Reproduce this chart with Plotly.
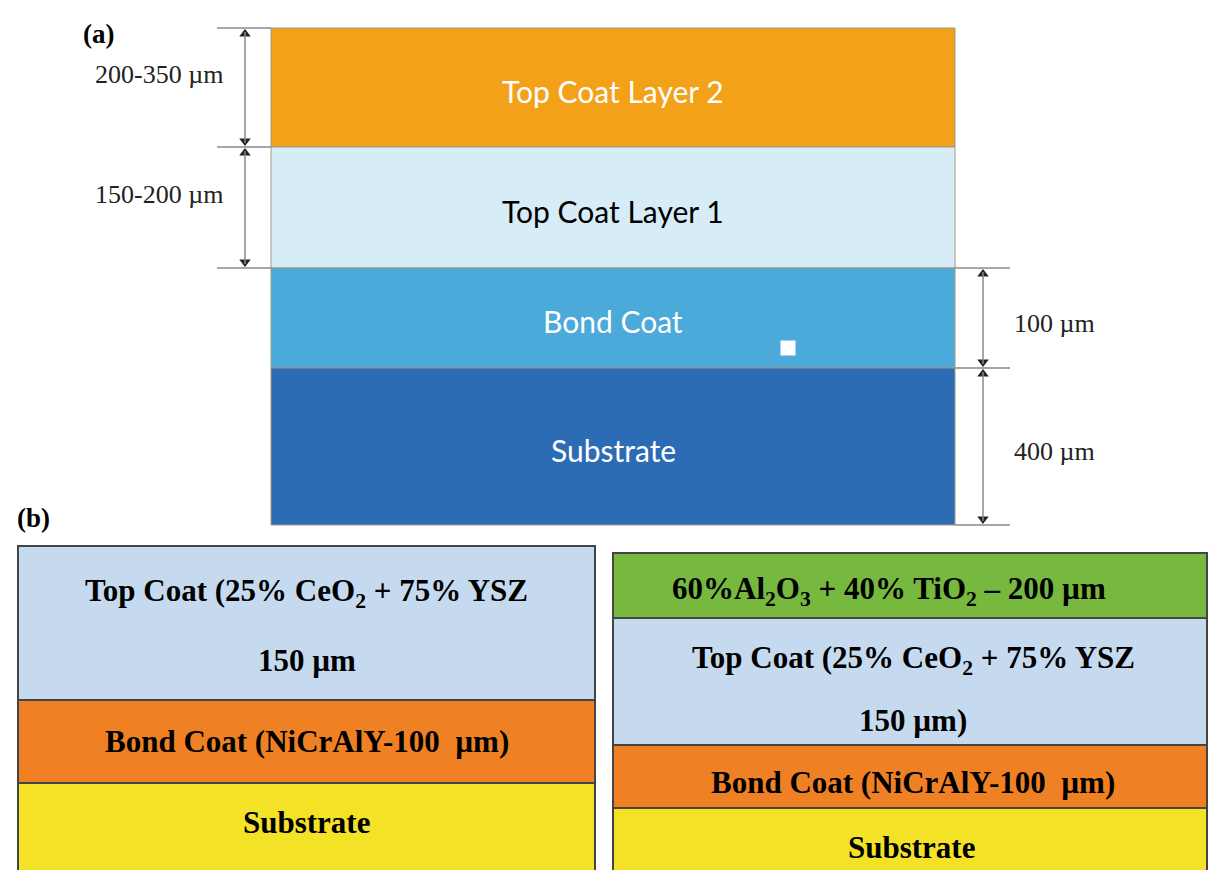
import numpy as np
import plotly.graph_objects as go

# ---------------- data ----------------
# Panel (a): layer stack (top to bottom), displayed heights in drawing units
a_layers = ["Top Coat Layer 2", "Top Coat Layer 1", "Bond Coat", "Substrate"]
a_heights = [119, 121, 100, 157]
a_colors = ["#F4A11A", "#D6ECF6", "#4BAAD9", "#2C6CB4"]
a_textcolors = ["white", "black", "white", "white"]
a_thickness_left = ["200-350 µm", "150-200 µm"]
a_thickness_right = ["100 µm", "400 µm"]

# Panel (b) left stack
bl_layers = ["Top Coat (25% CeO<sub>2</sub> + 75% YSZ", "Bond Coat (NiCrAlY-100  µm)", "Substrate"]
bl_sublines = ["150 µm", "", ""]
bl_heights = [154, 83, 90]
bl_colors = ["#C6DAEF", "#F08024", "#F3E225"]

# Panel (b) right stack
br_layers = ["60%Al<sub>2</sub>O<sub>3</sub> + 40% TiO<sub>2</sub> – 200 µm",
             "Top Coat (25% CeO<sub>2</sub> + 75% YSZ",
             "Bond Coat (NiCrAlY-100  µm)", "Substrate"]
br_sublines = ["", "150 µm)", "", ""]
br_heights = [65, 127, 63, 65]
br_colors = ["#77B83E", "#C6DAEF", "#F08024", "#F3E225"]

# ---------------- layout geometry (drawing frame) ----------------
W, H = 1212, 870
A_X0, A_X1, A_TOP = 271, 955, 28
BL_X0, BL_X1, BL_TOP = 18, 595, 546
BR_X0, BR_X1, BR_TOP = 613, 1207, 553

fig = go.Figure()


def add_stack(x0, x1, top, heights, colors, line_color, line_width):
    bases = top + np.concatenate([[0], np.cumsum(heights)[:-1]])
    fig.add_trace(go.Bar(
        x=[(x0 + x1) / 2] * len(heights), y=heights, base=bases,
        width=[x1 - x0] * len(heights),
        marker=dict(color=colors, line=dict(color=line_color, width=line_width)),
        showlegend=False, hoverinfo="skip"))
    return bases


# Panel (a)
a_bases = add_stack(A_X0, A_X1, A_TOP, a_heights, a_colors, "#a09a80", 1)
a_mids = a_bases + np.array(a_heights) / 2
for name, ym, tc in zip(a_layers, a_mids, a_textcolors):
    fig.add_annotation(x=(A_X0 + A_X1) / 2, y=ym + 3, text=name, showarrow=False,
                       font=dict(family="Lato", size=30, color=tc))

# small white marker inside bond coat
fig.add_trace(go.Scatter(x=[788], y=[348], mode="markers",
                         marker=dict(symbol="square", size=15, color="white"),
                         showlegend=False, hoverinfo="skip"))

# dimension lines (a)
a_edges = np.concatenate([[A_TOP], A_TOP + np.cumsum(a_heights)])
left_edges = a_edges[:3]
right_edges = a_edges[2:]
ext_left = (217, A_X0)
ext_right = (A_X1, 1010)
for y in left_edges:
    fig.add_shape(type="line", x0=ext_left[0], x1=ext_left[1], y0=y, y1=y,
                  line=dict(color="#8a8a8a", width=1.5))
for y in right_edges:
    fig.add_shape(type="line", x0=ext_right[0], x1=ext_right[1], y0=y, y1=y,
                  line=dict(color="#8a8a8a", width=1.5))


def dim_arrow(x, y0, y1):
    fig.add_shape(type="line", x0=x, x1=x, y0=y0 + 4, y1=y1 - 4,
                  line=dict(color="#8a8a8a", width=1.5))
    fig.add_trace(go.Scatter(
        x=[x, x], y=[y0 + 6, y1 - 6], mode="markers",
        marker=dict(symbol=["triangle-up", "triangle-down"], size=10, color="#222222"),
        showlegend=False, hoverinfo="skip"))


for i, lab in enumerate(a_thickness_left):
    y0, y1 = left_edges[i], left_edges[i + 1]
    dim_arrow(245, y0, y1)
    fig.add_annotation(x=159, y=(y0 + y1) / 2 - 13, text=lab, showarrow=False,
                       font=dict(family="Liberation Serif", size=26, color="#222222"))
for i, lab in enumerate(a_thickness_right):
    y0, y1 = right_edges[i], right_edges[i + 1]
    dim_arrow(983, y0, y1)
    fig.add_annotation(x=1012, y=(y0 + y1) / 2 + 5, text=lab, showarrow=False,
                       xanchor="left",
                       font=dict(family="Liberation Serif", size=26, color="#222222"))

# Panel (b) text style
BFONT = dict(family="Liberation Serif", size=31, color="black")

# Panel (b) left
bl_bases = add_stack(BL_X0, BL_X1, BL_TOP, bl_heights, bl_colors, "#444444", 2)
bl_text_y = [593, 741, 822]
bl_sub_y = [660, None, None]
for name, ym, sub, sy in zip(bl_layers, bl_text_y, bl_sublines, bl_sub_y):
    fig.add_annotation(x=(BL_X0 + BL_X1) / 2, y=ym, text="<b>" + name + "</b>", showarrow=False,
                       font=BFONT)
    if sub:
        fig.add_annotation(x=(BL_X0 + BL_X1) / 2, y=sy, text="<b>" + sub + "</b>",
                           showarrow=False, font=BFONT)

# Panel (b) right
br_bases = add_stack(BR_X0, BR_X1, BR_TOP, br_heights, br_colors, "#444444", 2)
br_text_y = [591, 660, 782, 847]
br_sub_y = [None, 720, None, None]
br_x_shift = [-21, 3, 3, 1]
for name, ym, sub, sy, dx in zip(br_layers, br_text_y, br_sublines, br_sub_y, br_x_shift):
    fig.add_annotation(x=(BR_X0 + BR_X1) / 2 + dx, y=ym, text="<b>" + name + "</b>",
                       showarrow=False, font=BFONT)
    if sub:
        fig.add_annotation(x=(BR_X0 + BR_X1) / 2 + dx, y=sy, text="<b>" + sub + "</b>",
                           showarrow=False, font=BFONT)

# panel labels
fig.add_annotation(x=98, y=34, text="<b>(a)</b>", showarrow=False,
                   font=dict(family="Liberation Serif", size=27, color="black"))
fig.add_annotation(x=33, y=518, text="<b>(b)</b>", showarrow=False,
                   font=dict(family="Liberation Serif", size=27, color="black"))

fig.update_layout(
    width=W, height=H, margin=dict(l=0, r=0, t=0, b=0),
    paper_bgcolor="white", plot_bgcolor="white", barmode="overlay",
    xaxis=dict(range=[0, W], visible=False, fixedrange=True),
    yaxis=dict(range=[H, 0], visible=False, fixedrange=True),
)

fig.write_html("out.html")
